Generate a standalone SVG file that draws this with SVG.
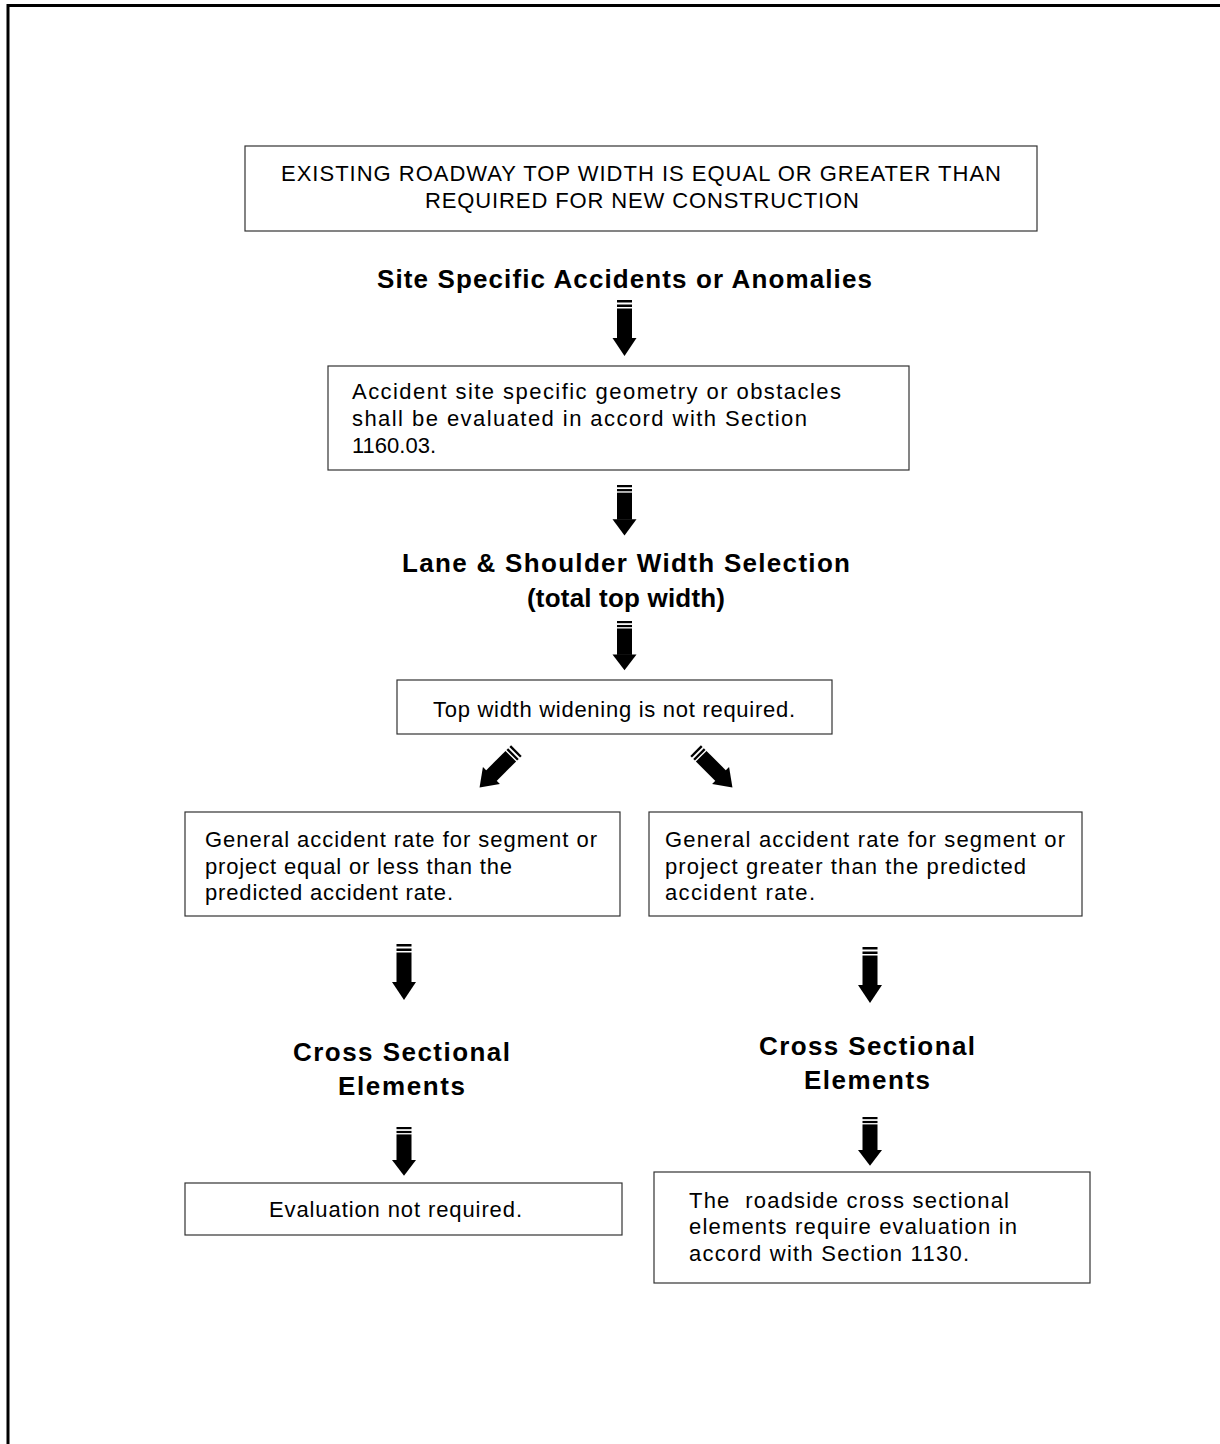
<svg xmlns="http://www.w3.org/2000/svg" width="1220" height="1444" viewBox="0 0 1220 1444">
<style>
.box{fill:#fff;stroke:#333;stroke-width:1.2}
.t{font-family:"Liberation Sans",Arial,sans-serif;font-size:22px;fill:#000}
.h{font-family:"Liberation Sans",Arial,sans-serif;font-size:26px;font-weight:bold;fill:#000;text-anchor:middle}
.c{text-anchor:middle}
</style>
<defs>
<g id="arr">
<rect x="-7.5" y="0" width="15" height="2.5"/>
<rect x="-7.5" y="4.5" width="15" height="2.5"/>
<rect x="-7.5" y="8.5" width="15" height="30"/>
<polygon points="-12,38 12,38 0,56"/>
</g>
</defs>
<rect width="1220" height="1444" fill="#fff"/>
<path d="M8,1444 V5.5 H1220" fill="none" stroke="#000" stroke-width="3"/>

<g id="n1">
<rect class="box" x="245" y="146" width="792" height="85"/>
<text class="t" x="281" y="181" textLength="720" lengthAdjust="spacing">EXISTING ROADWAY TOP WIDTH IS EQUAL OR GREATER THAN</text>
<text class="t" x="425" y="208" textLength="434" lengthAdjust="spacing">REQUIRED FOR NEW CONSTRUCTION</text>
</g>
<g id="h1"><text class="h" x="624.5" y="288" textLength="495" lengthAdjust="spacing">Site Specific Accidents or Anomalies</text></g>
<g id="n2">
<rect class="box" x="328" y="366" width="581" height="104"/>
<text class="t" x="352" y="399" textLength="489" lengthAdjust="spacing">Accident site specific geometry or obstacles</text>
<text class="t" x="352" y="426" textLength="455" lengthAdjust="spacing">shall be evaluated in accord with Section</text>
<text class="t" x="352" y="453">1160.03.</text>
</g>
<g id="h2">
<text class="h" x="626" y="572" textLength="448" lengthAdjust="spacing">Lane &amp; Shoulder Width Selection</text>
<text class="h" x="626" y="607" textLength="198" lengthAdjust="spacing">(total top width)</text>
</g>
<g id="n3">
<rect class="box" x="397" y="680" width="435" height="54"/>
<text class="t" x="433" y="717" textLength="362" lengthAdjust="spacing">Top width widening is not required.</text>
</g>
<g id="n4">
<rect class="box" x="185" y="812" width="435" height="104"/>
<text class="t" x="205" y="847" textLength="392" lengthAdjust="spacing">General accident rate for segment or</text>
<text class="t" x="205" y="874" textLength="307" lengthAdjust="spacing">project equal or less than the</text>
<text class="t" x="205" y="900" textLength="248" lengthAdjust="spacing">predicted accident rate.</text>
</g>
<g id="n5">
<rect class="box" x="649" y="812" width="433" height="104"/>
<text class="t" x="665" y="847" textLength="400" lengthAdjust="spacing">General accident rate for segment or</text>
<text class="t" x="665" y="874" textLength="361" lengthAdjust="spacing">project greater than the predicted</text>
<text class="t" x="665" y="900" textLength="150" lengthAdjust="spacing">accident rate.</text>
</g>
<g id="h3">
<text class="h" x="401.5" y="1061" textLength="217" lengthAdjust="spacing">Cross Sectional</text>
<text class="h" x="401.5" y="1095" textLength="127" lengthAdjust="spacing">Elements</text>
</g>
<g id="h4">
<text class="h" x="867" y="1055" textLength="216" lengthAdjust="spacing">Cross Sectional</text>
<text class="h" x="867" y="1089" textLength="126" lengthAdjust="spacing">Elements</text>
</g>
<g id="n6">
<rect class="box" x="185" y="1183" width="437" height="52"/>
<text class="t" x="269" y="1217" textLength="253" lengthAdjust="spacing">Evaluation not required.</text>
</g>
<g id="n7">
<rect class="box" x="654" y="1172" width="436" height="111"/>
<text class="t" x="689" y="1208" xml:space="preserve" textLength="320" lengthAdjust="spacing">The  roadside cross sectional</text>
<text class="t" x="689" y="1234" textLength="328" lengthAdjust="spacing">elements require evaluation in</text>
<text class="t" x="689" y="1261" textLength="280" lengthAdjust="spacing">accord with Section 1130.</text>
</g>

<g id="connectors" fill="#000">
<use href="#arr" transform="translate(624.5,300)"/>
<use href="#arr" transform="translate(624.5,485) scale(1,0.9)"/>
<use href="#arr" transform="translate(624.5,621) scale(1,0.88)"/>
<use href="#arr" transform="translate(498,769) rotate(45) translate(0,-26) scale(1,0.93)"/>
<use href="#arr" transform="translate(714,769) rotate(-45) translate(0,-26) scale(1,0.93)"/>
<use href="#arr" transform="translate(404,944)"/>
<use href="#arr" transform="translate(870,947)"/>
<use href="#arr" transform="translate(404,1127) scale(1,0.87)"/>
<use href="#arr" transform="translate(870,1117) scale(1,0.87)"/>
</g>
</svg>
